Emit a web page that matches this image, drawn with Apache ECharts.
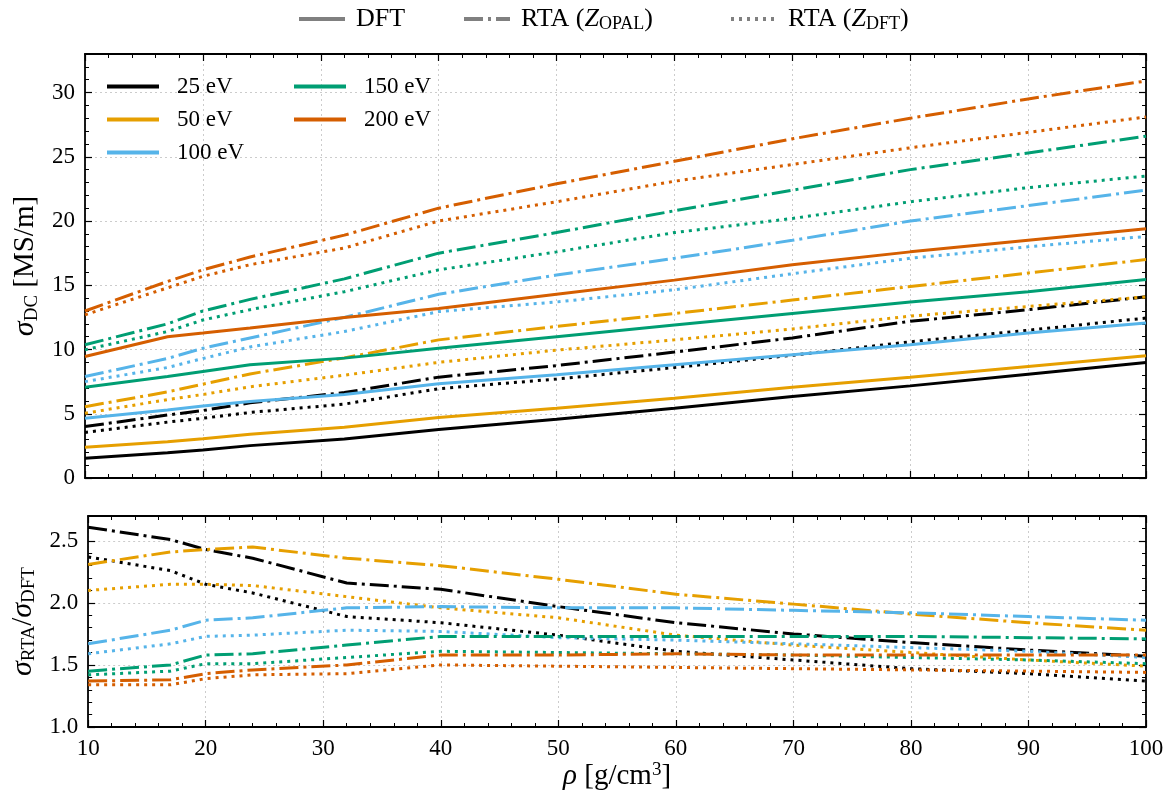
<!DOCTYPE html>
<html><head><meta charset="utf-8">
<script src="https://cdn.jsdelivr.net/npm/echarts@6/dist/echarts.min.js"></script>
<style>html,body{margin:0;padding:0;background:#fff}#c{width:1176px;height:799px}</style>
</head><body><div id="c"></div>
<script>
// density grid [g/cm^3]
const rho = [10, 17, 20, 24, 32, 40, 50, 60, 70, 80, 90, 100];
const temps = ['25 eV', '50 eV', '100 eV', '150 eV', '200 eV'];
const colors = ['#000000', '#E69F00', '#56B4E9', '#009E73', '#D55E00'];

// sigma_DC [MS/m] : DFT
const dft25  = [1.53, 1.97, 2.18, 2.52, 3.04, 3.77, 4.57, 5.43, 6.34, 7.17, 8.08, 8.99];
const dft50  = [2.39, 2.83, 3.05, 3.40, 3.95, 4.70, 5.43, 6.21, 7.07, 7.85, 8.68, 9.51];
const dft100 = [4.65, 5.30, 5.60, 5.95, 6.50, 7.33, 8.03, 8.81, 9.59, 10.37, 11.28, 12.06];
const dft150 = [7.07, 7.90, 8.29, 8.81, 9.33, 10.10, 11.00, 11.90, 12.80, 13.70, 14.50, 15.45];
const dft200 = [9.46, 11.00, 11.28, 11.67, 12.50, 13.20, 14.30, 15.40, 16.60, 17.60, 18.50, 19.40];
// sigma_DC : RTA (Z_OPAL)
const opal25  = [4.00, 4.90, 5.25, 5.85, 6.65, 7.85, 8.75, 9.80, 10.90, 12.20, 13.10, 14.10];
const opal50  = [5.55, 6.70, 7.30, 8.10, 9.35, 10.75, 11.80, 12.80, 13.85, 14.90, 15.95, 17.00];
const opal100 = [7.90, 9.30, 10.10, 10.90, 12.50, 14.30, 15.80, 17.10, 18.50, 20.00, 21.20, 22.40];
const opal150 = [10.37, 12.00, 13.00, 13.90, 15.50, 17.50, 19.10, 20.80, 22.40, 24.00, 25.30, 26.60];
const opal200 = [13.00, 15.30, 16.20, 17.20, 18.90, 21.00, 22.90, 24.65, 26.40, 28.00, 29.50, 30.90];
// sigma_DC : RTA (Z_DFT)
const zdft25  = [3.55, 4.35, 4.65, 5.10, 5.75, 6.95, 7.70, 8.60, 9.55, 10.60, 11.50, 12.45];
const zdft50  = [5.04, 6.10, 6.50, 7.10, 8.00, 9.00, 9.95, 10.75, 11.60, 12.60, 13.35, 14.10];
const zdft100 = [7.50, 8.60, 9.30, 10.20, 11.40, 12.95, 13.70, 14.65, 15.90, 17.10, 18.00, 18.80];
const zdft150 = [9.98, 11.40, 12.30, 13.10, 14.50, 16.20, 17.60, 19.10, 20.20, 21.50, 22.60, 23.50];
const zdft200 = [12.70, 14.80, 15.70, 16.60, 17.90, 20.00, 21.50, 23.10, 24.40, 25.70, 26.90, 28.10];

// ratio sigma_RTA / sigma_DFT : Z_OPAL
const rOpal25  = [2.61, 2.51, 2.43, 2.36, 2.16, 2.11, 1.97, 1.84, 1.75, 1.68, 1.62, 1.57];
const rOpal50  = [2.31, 2.41, 2.43, 2.45, 2.36, 2.30, 2.19, 2.07, 1.99, 1.91, 1.84, 1.78];
const rOpal100 = [1.67, 1.78, 1.86, 1.88, 1.96, 1.97, 1.96, 1.96, 1.94, 1.92, 1.89, 1.86];
const rOpal150 = [1.45, 1.50, 1.58, 1.59, 1.66, 1.73, 1.73, 1.73, 1.73, 1.73, 1.72, 1.71];
const rOpal200 = [1.37, 1.38, 1.43, 1.46, 1.50, 1.58, 1.58, 1.59, 1.58, 1.58, 1.58, 1.58];
// ratio : Z_DFT
const rZdft25  = [2.37, 2.26, 2.15, 2.08, 1.89, 1.84, 1.74, 1.61, 1.54, 1.47, 1.43, 1.37];
const rZdft50  = [2.10, 2.15, 2.15, 2.14, 2.05, 1.96, 1.88, 1.74, 1.66, 1.60, 1.54, 1.49];
const rZdft100 = [1.59, 1.67, 1.73, 1.74, 1.78, 1.77, 1.72, 1.70, 1.67, 1.64, 1.61, 1.56];
const rZdft150 = [1.42, 1.45, 1.51, 1.51, 1.56, 1.61, 1.60, 1.59, 1.58, 1.56, 1.54, 1.51];
const rZdft200 = [1.34, 1.34, 1.39, 1.42, 1.43, 1.50, 1.49, 1.48, 1.47, 1.46, 1.45, 1.44];

const xTicks = [10, 20, 30, 40, 50, 60, 70, 80, 90, 100];

const dftSets = [dft25, dft50, dft100, dft150, dft200];
const opalSets = [opal25, opal50, opal100, opal150, opal200];
const zdftSets = [zdft25, zdft50, zdft100, zdft150, zdft200];
const rOpalSets = [rOpal25, rOpal50, rOpal100, rOpal150, rOpal200];
const rZdftSets = [rZdft25, rZdft50, rZdft100, rZdft150, rZdft200];

const FONT = 'Liberation Serif';
const DASHDOT = [19, 5, 3, 5];
const DOT = [3, 5];
const LW = 3;
const TICKFS = 23;
const NAMEFS = 29;

function pts(arr) { return rho.map((x, i) => [x, arr[i]]); }

const axisLine = { show: true, onZero: false, lineStyle: { color: '#000', width: 1.8 } };
const gridLine = { show: true, lineStyle: { color: '#cccccc', type: [2, 3], width: 1 } };
const majorTick = { show: true, inside: true, length: 7, lineStyle: { color: '#000', width: 1.2 } };
const minorTickAx = { show: true, inside: true, length: 4, lineStyle: { color: '#000', width: 1 } };
const labelStyle = { fontFamily: FONT, fontSize: TICKFS, color: '#000' };

function xAxes(grid, withLabels, name) {
  const xmin = xTicks[0], xmax = xTicks[xTicks.length - 1], step = xTicks[1] - xTicks[0];
  const mt = { show: true, splitNumber: 5, length: 4, lineStyle: { color: '#000', width: 1 } };
  return [
    { type: 'value', gridIndex: grid, position: 'bottom', min: xmin, max: xmax, interval: step,
      axisLine, axisTick: majorTick, minorTick: mt,
      axisLabel: withLabels ? Object.assign({ show: true, margin: 10 }, labelStyle) : { show: false },
      splitLine: gridLine,
      name: name || '', nameLocation: 'middle', nameGap: 33,
      nameTextStyle: { fontFamily: FONT, fontSize: NAMEFS, color: '#000',
        rich: {
          i: { fontFamily: FONT, fontSize: NAMEFS, fontStyle: 'italic', color: '#000' },
          n: { fontFamily: FONT, fontSize: NAMEFS, color: '#000' },
          u: { fontFamily: FONT, fontSize: 19, color: '#000', padding: [0, 0, 11, 0] }
        } } },
    { type: 'value', gridIndex: grid, position: 'top', min: xmin, max: xmax, interval: step,
      axisLine, axisTick: majorTick, minorTick: mt,
      axisLabel: { show: false }, splitLine: { show: false } }
  ];
}

function yAxes(grid, min, max, major, minor, fmt, name, nameGap) {
  const nameStyle = { fontFamily: FONT, fontSize: NAMEFS, color: '#000',
    rich: {
      i: { fontFamily: FONT, fontSize: NAMEFS + 1, fontStyle: 'italic', color: '#000' },
      n: { fontFamily: FONT, fontSize: NAMEFS, color: '#000' },
      s: { fontFamily: FONT, fontSize: 19, color: '#000', padding: [12, 0, 0, 0] }
    } };
  const base = { type: 'value', gridIndex: grid, min, max };
  return [
    Object.assign({}, base, { position: 'left', interval: major, axisLine, axisTick: majorTick,
      axisLabel: Object.assign({ show: true, margin: 10, showMaxLabel: false, formatter: fmt }, labelStyle),
      splitLine: gridLine, name, nameLocation: 'middle', nameGap, nameRotate: 90, nameTextStyle: nameStyle }),
    Object.assign({}, base, { position: 'left', interval: minor, axisLine: { show: false }, axisTick: minorTickAx,
      axisLabel: { show: false }, splitLine: { show: false } }),
    Object.assign({}, base, { position: 'right', interval: major, axisLine, axisTick: majorTick,
      axisLabel: { show: false }, splitLine: { show: false } }),
    Object.assign({}, base, { position: 'right', interval: minor, axisLine: { show: false }, axisTick: minorTickAx,
      axisLabel: { show: false }, splitLine: { show: false } })
  ];
}

const series = [];
for (let i = 0; i < temps.length; i++) {
  const base = { type: 'line', symbol: 'none', smooth: false, silent: true, color: colors[i] };
  series.push(Object.assign({}, base, { name: temps[i], xAxisIndex: 0, yAxisIndex: 0,
    lineStyle: { width: LW, color: colors[i], type: 'solid' }, data: pts(dftSets[i]) }));
  series.push(Object.assign({}, base, { name: temps[i] + ' opal', xAxisIndex: 0, yAxisIndex: 0,
    lineStyle: { width: LW, color: colors[i], type: DASHDOT, cap: 'butt' }, data: pts(opalSets[i]) }));
  series.push(Object.assign({}, base, { name: temps[i] + ' zdft', xAxisIndex: 0, yAxisIndex: 0,
    lineStyle: { width: LW, color: colors[i], type: DOT, cap: 'butt' }, data: pts(zdftSets[i]) }));
  series.push(Object.assign({}, base, { name: temps[i] + ' r opal', xAxisIndex: 2, yAxisIndex: 4,
    lineStyle: { width: LW, color: colors[i], type: DASHDOT, cap: 'butt' }, data: pts(rOpalSets[i]) }));
  series.push(Object.assign({}, base, { name: temps[i] + ' r zdft', xAxisIndex: 2, yAxisIndex: 4,
    lineStyle: { width: LW, color: colors[i], type: DOT, cap: 'butt' }, data: pts(rZdftSets[i]) }));
}
// style-key series (legend only)
const styleKeys = [['DFT', 'solid'], ['RTA_OPAL', DASHDOT], ['RTA_DFT', DOT]];
styleKeys.forEach(([n, t]) => series.push({ type: 'line', name: n, symbol: 'none', xAxisIndex: 0, yAxisIndex: 0,
  color: '#808080', lineStyle: { width: LW, color: '#808080', type: t, cap: 'butt' }, data: [] }));

function legText(gap, fs, sfs) {
  return { fontFamily: FONT, fontSize: fs, color: '#000', lineHeight: 22,
    rich: {
      n: { fontFamily: FONT, fontSize: fs, color: '#000', padding: [0, 0, 0, gap] },
      m: { fontFamily: FONT, fontSize: fs, color: '#000' },
      i: { fontFamily: FONT, fontSize: fs, fontStyle: 'italic', color: '#000' },
      s: { fontFamily: FONT, fontSize: sfs, color: '#000', padding: [10, 0, 0, 0] }
    } };
}
const hideSym = { opacity: 0 };
function keyLegend(name, left, fmt) {
  return { data: [name], left, top: 6, padding: 0, itemWidth: 46, itemHeight: 14, selectedMode: false,
    itemStyle: hideSym, lineStyle: { width: 4 }, textStyle: legText(6, 26, 18), formatter: () => fmt };
}

const option = {
  animation: false,
  backgroundColor: '#fff',
  grid: [
    { left: 85, right: 30, top: 54, height: 424 },
    { left: 85, right: 30, top: 516, height: 211 }
  ],
  xAxis: [].concat(xAxes(0, false), xAxes(1, true, '{i|ρ}{n| [g/cm}{u|3}{n|]}')),
  yAxis: [].concat(
    yAxes(0, 0, 33, 5, 1, v => String(v), '{i|σ}{s|DC}{n| [MS/m]}', 40),
    yAxes(1, 1.0, 2.7, 0.5, 0.1, v => v.toFixed(1), '{i|σ}{s|RTA}{n|/}{i|σ}{s|DFT}', 40)
  ),
  legend: [
    keyLegend('DFT', 297, '{n|DFT}'),
    keyLegend('RTA_OPAL', 462, '{n|RTA (}{i|Z}{s|OPAL}{m|)}'),
    keyLegend('RTA_DFT', 729, '{n|RTA (}{i|Z}{s|DFT}{m|)}'),
    { data: temps.slice(0, 3), left: 105, top: 75, padding: 0, orient: 'vertical', itemWidth: 52, itemHeight: 14,
      itemGap: 10, selectedMode: false, itemStyle: hideSym, lineStyle: { width: 4 }, textStyle: legText(13, 23, 16),
      formatter: n => '{n|' + n + '}' },
    { data: temps.slice(3), left: 292, top: 75, padding: 0, orient: 'vertical', itemWidth: 52, itemHeight: 14,
      itemGap: 10, selectedMode: false, itemStyle: hideSym, lineStyle: { width: 4 }, textStyle: legText(13, 23, 16),
      formatter: n => '{n|' + n + '}' }
  ],
  series
};

const chart = echarts.init(document.getElementById('c'), null, { renderer: 'canvas' });
chart.setOption(option);
</script>
</body></html>
